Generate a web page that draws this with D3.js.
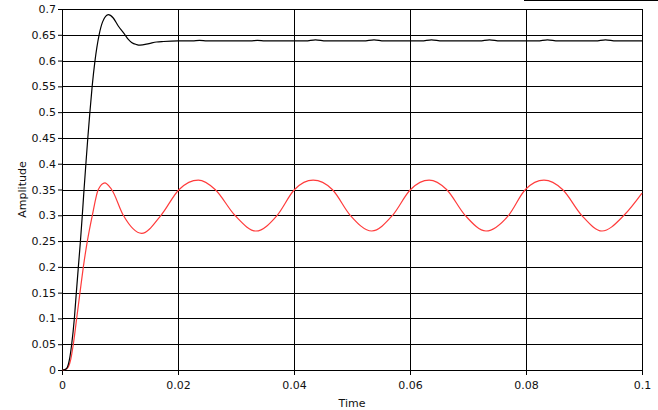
<!DOCTYPE html>
<html>
<head>
<meta charset="utf-8">
<script src="https://cdn.jsdelivr.net/npm/d3@7"></script>
<style>
  body { margin: 0; background: #fff; }
  svg { display: block; font-family: "DejaVu Sans", sans-serif; }
</style>
</head>
<body>
<svg id="chart" width="658" height="410"></svg>
<script>
// black trace (step response)
const blackTime = [0, 0.0005, 0.0008, 0.00126, 0.00167, 0.00213, 0.00247, 0.00282, 0.00318, 0.0035,
  0.0038, 0.00412, 0.00445, 0.00481, 0.0052, 0.00569, 0.0064, 0.007, 0.008, 0.0088,
  0.0097, 0.01086, 0.01144, 0.012, 0.01287, 0.01345, 0.015, 0.0163, 0.0175, 0.02,
  0.0225, 0.0237, 0.025, 0.0325, 0.0337, 0.035, 0.042, 0.0437, 0.0455, 0.052, 0.0538, 0.0555,
  0.062, 0.0637, 0.0655, 0.072, 0.0737, 0.0755, 0.082, 0.0837, 0.0855, 0.092, 0.0937, 0.0955, 0.1];
const blackAmp = [0, 0.001, 0.003, 0.019, 0.05, 0.1, 0.15, 0.2, 0.25, 0.3,
  0.35, 0.4, 0.45, 0.5, 0.55, 0.6, 0.65, 0.675, 0.689, 0.683,
  0.667, 0.65, 0.641, 0.635, 0.631, 0.630, 0.633, 0.636, 0.637, 0.638,
  0.638, 0.639, 0.638, 0.638, 0.639, 0.638, 0.638, 0.640, 0.638, 0.638, 0.640, 0.638,
  0.638, 0.640, 0.638, 0.638, 0.640, 0.638, 0.638, 0.640, 0.638, 0.638, 0.640, 0.638, 0.638];

// red trace (oscillating response)
const redTime = [0, 0.0006, 0.0011, 0.0015, 0.00195, 0.00253, 0.0031, 0.00368, 0.00437, 0.00523,
  0.00626, 0.0074, 0.00828, 0.00856, 0.01057, 0.01374, 0.01707, 0.0202, 0.0235, 0.0264,
  0.0298, 0.03345, 0.0371, 0.0401, 0.0433, 0.0466, 0.0497, 0.0534, 0.057, 0.0601,
  0.0633, 0.0663, 0.0695, 0.0731, 0.077, 0.0799, 0.0831, 0.0863, 0.0896, 0.0931,
  0.0969, 0.1];
const redAmp = [0, 0.001, 0.006, 0.02, 0.05, 0.1, 0.15, 0.2, 0.25, 0.3,
  0.35, 0.363, 0.354, 0.35, 0.3, 0.265, 0.3, 0.35, 0.368, 0.35,
  0.3, 0.2695, 0.3, 0.35, 0.368, 0.35, 0.3, 0.2695, 0.3, 0.35,
  0.368, 0.35, 0.3, 0.2695, 0.3, 0.35, 0.368, 0.35, 0.3, 0.2695,
  0.3, 0.343];

const xTicks = [0, 0.02, 0.04, 0.06, 0.08, 0.1];
const yTicks = d3.range(0, 15).map(i => +(i * 0.05).toFixed(2));

const svg = d3.select("#chart");
const margin = { top: 9, left: 62, right: 16, bottom: 40 };
const width = 658, height = 410;

const x = d3.scaleLinear().domain([0, 0.1]).range([margin.left, width - margin.right]);
const y = d3.scaleLinear().domain([0, 0.7]).range([height - margin.bottom, margin.top]);

// stray line at the top right of the frame
svg.append("line")
  .attr("x1", 524).attr("x2", 658).attr("y1", 0.5).attr("y2", 0.5)
  .attr("stroke", "#000");

// grid
const grid = svg.append("g").attr("shape-rendering", "crispEdges");
grid.selectAll(".hy").data(yTicks).join("line")
  .attr("x1", x(0)).attr("x2", x(0.1))
  .attr("y1", d => Math.round(y(d)) + 0.5).attr("y2", d => Math.round(y(d)) + 0.5)
  .attr("stroke", "#000");
grid.selectAll(".vx").data(xTicks).join("line")
  .attr("y1", y(0)).attr("y2", y(0.7))
  .attr("x1", d => Math.round(x(d)) + 0.5).attr("x2", d => Math.round(x(d)) + 0.5)
  .attr("stroke", "#000");

// axes
const yAxis = d3.axisLeft(y).tickValues(yTicks).tickSize(4).tickPadding(2)
  .tickFormat(d => d3.format("")(d));
const xAxis = d3.axisBottom(x).tickValues(xTicks).tickSize(5).tickPadding(6)
  .tickFormat(d => d3.format("")(d));

svg.append("g").attr("transform", `translate(${x(0)},0)`).call(yAxis)
  .call(g => g.select(".domain").remove())
  .call(g => g.selectAll("text").attr("font-size", 11).attr("fill", "#111").attr("font-family", "DejaVu Sans"));
svg.append("g").attr("transform", `translate(0,${y(0)})`).call(xAxis)
  .call(g => g.select(".domain").remove())
  .call(g => g.selectAll("text").attr("font-size", 11).attr("fill", "#111").attr("font-family", "DejaVu Sans"));

svg.append("text")
  .attr("transform", `translate(26,${(y(0) + y(0.7)) / 2}) rotate(-90)`)
  .attr("text-anchor", "middle").attr("font-size", 11).attr("fill", "#111")
  .text("Amplitude");
svg.append("text")
  .attr("x", (x(0) + x(0.1)) / 2).attr("y", 407)
  .attr("text-anchor", "middle").attr("font-size", 11).attr("fill", "#111")
  .text("Time");

// traces
const line = d3.line().x(d => x(d[0])).y(d => y(d[1])).curve(d3.curveMonotoneX);
svg.append("path").datum(redTime.map((t, i) => [t, redAmp[i]]))
  .attr("d", line).attr("fill", "none").attr("stroke", "#ff3b3b").attr("stroke-width", 1.2);
svg.append("path").datum(blackTime.map((t, i) => [t, blackAmp[i]]))
  .attr("d", line).attr("fill", "none").attr("stroke", "#000").attr("stroke-width", 1.2);
</script>
</body>
</html>
